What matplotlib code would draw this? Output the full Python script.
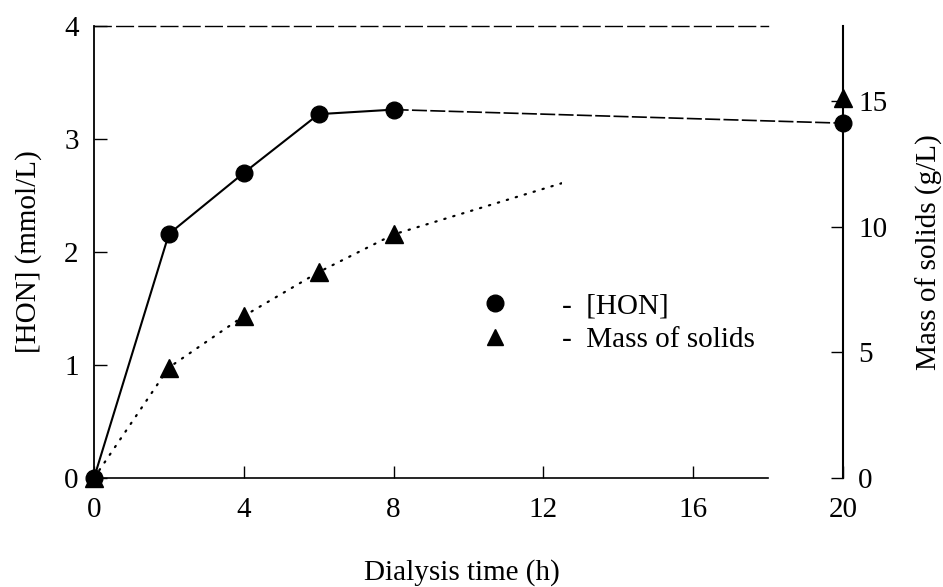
import matplotlib.pyplot as plt
from matplotlib.lines import Line2D
from matplotlib.patches import Rectangle

# data
time_h = [0, 2, 4, 6, 8, 20]
hon = [0, 2.16, 2.70, 3.22, 3.26, 3.14]          # mmol/L (left axis)
solids = [0, 4.4, 6.45, 8.2, 9.7, 15.15]         # g/L (right axis)

x_ticks = [0, 4, 8, 12, 16, 20]
hon_ticks = [0, 1, 2, 3, 4]
solids_ticks = [0, 5, 10, 15]

plt.rcParams["font.family"] = ["Liberation Serif", "DejaVu Serif"]
plt.rcParams["font.size"] = 21

fig = plt.figure(figsize=(9.43, 5.87), dpi=100)
ax = fig.add_axes([0.0997, 0.1857, 0.7943, 0.7700])
ax2 = ax.twinx()

# [HON]: solid up to 8 h, then a broken line to 20 h
ax.plot(time_h[:5], hon[:5], color="black", linewidth=1.5, zorder=3)
ax.plot(time_h[4:], hon[4:], color="black", linewidth=1.2,
        linestyle=(0, (9, 2)), zorder=3)
ax.plot(time_h, hon, linestyle="none", marker="o", markersize=12,
        color="black", clip_on=False, zorder=4)

# mass of solids: dotted line (fades out after ~12.5 h in the original)
dots, = ax2.plot(time_h, solids, color="black", linewidth=1.6,
                 linestyle=(0, (0.6, 3.6)), dash_capstyle="round", zorder=3)
clip = Rectangle((0, 0), 12.5, 18, transform=ax2.transData)
dots.set_clip_path(clip)
ax2.plot(time_h, solids, linestyle="none", marker="^", markersize=12.5,
         color="black", clip_on=False, zorder=4)

ax.set_xlim(0, 20)
ax.set_ylim(0, 4)
ax2.set_ylim(0, 18)

ax.set_xticks(x_ticks)
ax.set_yticks(hon_ticks)
ax2.set_yticks(solids_ticks)

ax.tick_params(direction="in", length=9, width=1, pad=11)
ax.tick_params(axis="x", pad=14)
ax2.tick_params(direction="in", length=9, width=1, pad=11)

ax.spines["left"].set_linewidth(1.3)
ax.spines["bottom"].set_bounds(0, 18)
ax.spines["bottom"].set_linewidth(1.2)
ax.spines["top"].set_bounds(0, 18)
ax.spines["top"].set_linewidth(1.0)
ax.spines["top"].set_linestyle((0, (12, 4)))
ax.spines["right"].set_visible(False)
for s in ["left", "top", "bottom"]:
    ax2.spines[s].set_visible(False)
ax2.spines["right"].set_linewidth(1.5)

ax.set_xlabel("Dialysis time (h)")
ax.xaxis.set_label_coords(0.491, -0.18)
ax.set_ylabel("[HON] (mmol/L)")
ax.yaxis.set_label_coords(-0.069, 0.5)
ax2.set_ylabel("Mass of solids (g/L)")
ax2.yaxis.set_label_coords(1.097, 0.5)

handles = [
    Line2D([], [], linestyle="none", marker="o", markersize=12, color="black"),
    Line2D([], [], linestyle="none", marker="^", markersize=11, color="black"),
]
fig.legend(handles, ["-  [HON]", "-  Mass of solids"], loc="upper left",
           bbox_to_anchor=(480 / 943, 1 - 293 / 587), frameon=False,
           handlelength=1.0, handletextpad=1.8, labelspacing=0.25,
           borderpad=0, borderaxespad=0)

fig.savefig("out.png", dpi=100)
